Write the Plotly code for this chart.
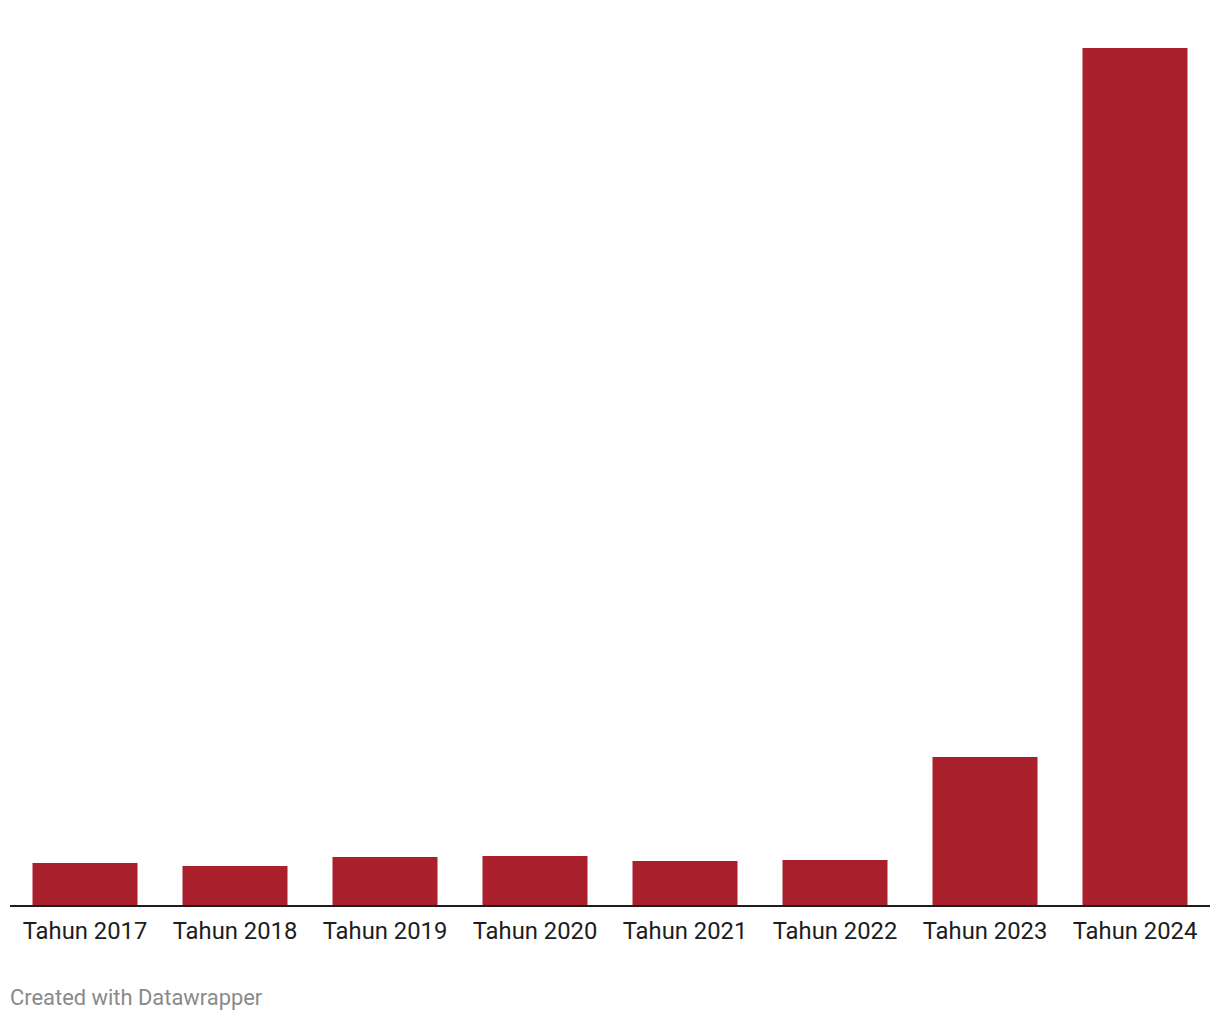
import plotly.graph_objects as go

categories = ["Tahun 2017", "Tahun 2018", "Tahun 2019", "Tahun 2020",
              "Tahun 2021", "Tahun 2022", "Tahun 2023", "Tahun 2024"]
values = [42, 39, 48, 49, 44, 45, 148, 857]

fig = go.Figure()
fig.add_trace(go.Bar(x=categories, y=values, marker=dict(color="#aa1f2c", line=dict(width=0)),
                     hoverinfo="x+y"))

fig.update_layout(
    width=1220, height=1020,
    margin=dict(l=10, r=10, t=48, b=115),
    paper_bgcolor="white", plot_bgcolor="white",
    bargap=0.3,
    showlegend=False,
    font=dict(family="Roboto", color="#1d1d1d"),
    xaxis=dict(showline=True, linecolor="#1d1d1d", linewidth=2, showgrid=False,
               ticks="", tickfont=dict(size=23.8, family="Roboto", color="#1d1d1d"),
               ticklabelstandoff=3),
    yaxis=dict(visible=False, range=[0, 857], showgrid=False),
    annotations=[dict(text="Created with Datawrapper", xref="paper", yref="paper",
                      x=0, y=0, xanchor="left", yanchor="top",
                      yshift=-78, xshift=-2, showarrow=False,
                      font=dict(size=21.9, family="Roboto", color="#8a8a8a"))],
)

fig.write_html("out.html")
